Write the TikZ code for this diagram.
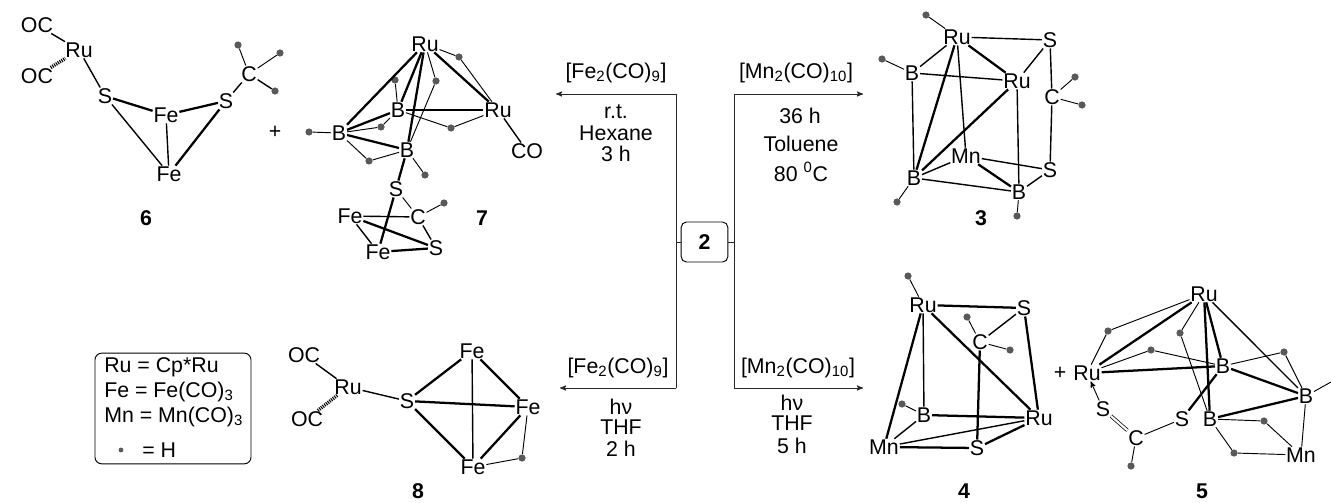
\documentclass[tikz,border=0pt]{standalone}
\usepackage{fontspec}
\setmainfont{Liberation Sans}
\usepackage{tikz}
\usetikzlibrary{arrows}
\newcommand{\atomfont}{\fontsize{16}{19}\selectfont}
\tikzset{
  atom/.style={inner sep=.5pt, font=\atomfont},
  cond/.style={inner sep=0pt, font=\atomfont},
  cmpd/.style={inner sep=0pt, font=\atomfont\bfseries},
  hyd/.style={circle, fill=black!65, inner sep=0pt, minimum size=5.4pt},
  thinb/.style={line width=.7pt},
  medb/.style={line width=1.05pt},
  boldb/.style={line width=1.7pt},
  hashb/.style={line width=2.6pt, dash pattern=on .8pt off .8pt},
  rxn/.style={line width=.7pt, black!85},
}
\begin{document}
\begin{tikzpicture}[x=.75pt, y=-.75pt]
  \useasboundingbox (0,0) rectangle (1331,503);

  % compound 6
  \node[atom] (oca) at (37,25) {OC};
  \node[atom] (ocb) at (37,76) {OC};
  \node[atom] (rua) at (79,50) {Ru};
  \node[atom] (sa) at (105,96) {S};
  \node[atom] (fea) at (166,115) {Fe};
  \node[atom] (feb) at (169,174) {Fe};
  \node[atom] (sb) at (226,101) {S};
  \node[atom] (ca) at (249,74) {C};
  \node[hyd] (ha) at (238,45) {};
  \node[hyd] (hb) at (280,53) {};
  \node[hyd] (hc) at (275,91) {};
  \node[atom] (plusa) at (275,132) {+};
  \node[cmpd] (six) at (146,218) {6};
  \path[medb] (oca) edge (rua) (rua) edge (sa) (sa) edge (feb) (sb) edge (ca)
    (fea) edge (feb) (ca) edge (hc);
  \path[thinb] (ca) edge (ha) (ca) edge (hb);
  \path[boldb] (sa) edge (fea) (sb) edge (fea) (sb) edge (feb);
  \path[hashb] (ocb) edge (rua);

  % compound 7
  \node[atom] (rub) at (425,44) {Ru};
  \node[atom] (ruc) at (498,110) {Ru};
  \node[atom] (coa) at (527,151) {CO};
  \node[atom] (ba) at (398,110) {B};
  \node[atom] (bb) at (339,133) {B};
  \node[atom] (bc) at (407,150) {B};
  \node[atom] (sc) at (396,189) {S};
  \node[atom] (cb) at (418,217) {C};
  \node[atom] (sd) at (436,248) {S};
  \node[atom] (fec) at (350,216) {Fe};
  \node[atom] (fed) at (378,252) {Fe};
  \node[hyd] (hd) at (459,57) {};
  \node[hyd] (he) at (436,81) {};
  \node[hyd] (hf) at (395,80) {};
  \node[hyd] (hg) at (309,132) {};
  \node[hyd] (hh) at (381,127) {};
  \node[hyd] (hi) at (451,128) {};
  \node[hyd] (hj) at (369,161) {};
  \node[hyd] (hk) at (425,175) {};
  \node[hyd] (hl) at (444,203) {};
  \node[cmpd] (seven) at (482,218) {7};
  \path[thinb] (rub) edge (hd) (hd) edge (ruc) (rub) edge (he) (he) edge (bc)
    (hf) edge (ba) (bb) edge (hg) (bb) edge (hh) (hh) edge (ba)
    (ba) edge (hi) (hi) edge (ruc) (bb) edge (hj) (hj) edge (bc)
    (bc) edge (hk) (cb) edge (hl) (sc) edge (cb);
  \path[medb] (ruc) edge (coa) (cb) edge (sd) (fec) edge (cb) (fec) edge (fed);
  \path[boldb] (rub) edge (bb) (rub) edge (ba) (rub) edge (bc) (rub) edge (ruc)
    (ba) edge (bb) (ba) edge (ruc) (bb) edge (bc) (bc) edge (sc)
    (sc) edge (fed) (fec) edge (sd) (fed) edge (sd);

  % scheme lines
  \node[draw, rounded corners=4pt, line width=.7pt, cmpd, minimum width=35pt, minimum height=30pt] (two) at (704.5,242) {2};
  \coordinate (jl) at (676,242);
  \coordinate (jr) at (734,242);
  \coordinate (tl) at (676,94);
  \coordinate (bl) at (676,388);
  \coordinate (tr) at (734,94);
  \coordinate (br) at (734,388);
  \coordinate (atl) at (556,94);
  \coordinate (abl) at (560,388);
  \coordinate (atr) at (863,94);
  \coordinate (abr) at (863,388);
  \draw[rxn] (two) -- (jl) (two) -- (jr) (tl) -- (bl) (tr) -- (br);
  \draw[rxn, -stealth'] (tl) -- (atl);
  \draw[rxn, -stealth'] (bl) -- (abl);
  \draw[rxn, -stealth'] (tr) -- (atr);
  \draw[rxn, -stealth'] (br) -- (abr);

  \node[cond] (fetop) at (616,73) {[Fe\textsubscript{2}(CO)\textsubscript{9}]};
  \node[cond] (rt) at (616,112) {r.t.};
  \node[cond] (hex) at (616,133) {Hexane};
  \node[cond] (tha) at (616,154) {3 h};
  \node[cond] (mntop) at (796,73) {[Mn\textsubscript{2}(CO)\textsubscript{10}]};
  \node[cond] (thb) at (800,116) {36 h};
  \node[cond] (tol) at (801,144) {Toluene};
  \node[cond] (temp) at (801,172) {80 \textsuperscript{0}C};
  \node[cond] (febot) at (618,368) {[Fe\textsubscript{2}(CO)\textsubscript{9}]};
  \node[cond] (hva) at (621,407) {hν};
  \node[cond] (thfa) at (621,427) {THF};
  \node[cond] (thc) at (621,449) {2 h};
  \node[cond] (mnbot) at (798,368) {[Mn\textsubscript{2}(CO)\textsubscript{10}]};
  \node[cond] (hvb) at (792,403) {hν};
  \node[cond] (thfb) at (792,423) {THF};
  \node[cond] (thd) at (792,446) {5 h};

  % compound 3
  \node[atom] (rud) at (957,37) {Ru};
  \node[atom] (rue) at (1017,81) {Ru};
  \node[atom] (bd) at (912,73) {B};
  \node[atom] (be) at (914,178) {B};
  \node[atom] (bf) at (1019,192) {B};
  \node[atom] (mna) at (966,156) {Mn};
  \node[atom] (se) at (1050,40) {S};
  \node[atom] (cc) at (1052,97) {C};
  \node[atom] (sf) at (1050,170) {S};
  \node[hyd] (hm) at (926,15) {};
  \node[hyd] (hn) at (882,59) {};
  \node[hyd] (ho) at (897,202) {};
  \node[hyd] (hp) at (1017,216) {};
  \node[hyd] (hq) at (1075,77) {};
  \node[hyd] (hr) at (1082,105) {};
  \node[cmpd] (three) at (981,218) {3};
  \path[thinb] (rud) edge (hm) (bd) edge (hn) (be) edge (ho) (bf) edge (hp)
    (cc) edge (hq) (cc) edge (hr);
  \path[medb] (rud) edge (bd) (rud) edge (se) (rud) edge (mna) (rue) edge (se)
    (rue) edge (bd) (rue) edge (bf) (bd) edge (be) (be) edge (mna) (be) edge (bf)
    (mna) edge (sf) (bf) edge (sf) (se) edge (cc) (cc) edge (sf);
  \path[boldb] (rud) edge (rue) (rud) edge (be) (rue) edge (be) (mna) edge (bf);

  % compound 4
  \node[atom] (ruf) at (923,305) {Ru};
  \node[atom] (rug) at (1039,418) {Ru};
  \node[atom] (sg) at (1024,308) {S};
  \node[atom] (sh) at (977,448) {S};
  \node[atom] (cd) at (980,342) {C};
  \node[atom] (bg) at (924,415) {B};
  \node[atom] (mnb) at (884,447) {Mn};
  \node[hyd] (hs) at (908,276) {};
  \node[hyd] (ht) at (967,317) {};
  \node[hyd] (hu) at (1010,350) {};
  \node[hyd] (hv) at (902,404) {};
  \node[cmpd] (four) at (964,491) {4};
  \path[thinb] (ruf) edge (hs) (cd) edge (ht) (cd) edge (hu) (bg) edge (hv);
  \path[medb] (ruf) edge (bg) (sg) edge (cd) (mnb) edge (rug) (bg) edge (mnb);
  \path[boldb] (ruf) edge (sg) (ruf) edge (rug) (ruf) edge (mnb) (sg) edge (rug)
    (cd) edge (sh) (bg) edge (rug) (mnb) edge (sh) (sh) edge (rug);

  % compound 5
  \node[atom] (plusb) at (1060,373) {+};
  \node[atom] (ruh) at (1204,294) {Ru};
  \node[atom] (rui) at (1087,373) {Ru};
  \node[atom] (bh) at (1223,366) {B};
  \node[atom] (bi) at (1306,396) {B};
  \node[atom] (bj) at (1210,419) {B};
  \node[atom] (mnc) at (1301,455) {Mn};
  \node[atom] (si) at (1182,419) {S};
  \node[atom] (sj) at (1103,409) {S};
  \node[atom] (ce) at (1136,438) {C};
  \node[hyd] (hw) at (1108,331) {};
  \node[hyd] (hx) at (1151,350) {};
  \node[hyd] (hy) at (1180,333) {};
  \node[hyd] (hz) at (1284,352) {};
  \node[hyd] (haa) at (1264,421) {};
  \node[hyd] (hab) at (1234,453) {};
  \node[hyd] (hac) at (1131,466) {};
  \node[cmpd] (five) at (1202,491) {5};
  \coordinate (free) at (1331,382);
  \path[thinb] (ruh) edge (hw) (hw) edge (rui) (rui) edge (hx) (hx) edge (bh)
    (ruh) edge (hy) (hy) edge (bj) (bh) edge (hz) (hz) edge (bi)
    (bj) edge (haa) (haa) edge (mnc) (bj) edge (hab) (hab) edge (mnc)
    (bi) edge (mnc) (si) edge (ce) (ce) edge (hac) (bi) edge (free);
  \path[medb] (ruh) edge (bi);
  \path[boldb] (ruh) edge (rui) (rui) edge (bh) (ruh) edge (bh) (ruh) edge (bj)
    (bh) edge (bi) (bj) edge (bi) (si) edge (bh);
  \draw[double, double distance=1.6pt, line width=.55pt] (sj) -- (ce);
  \draw[thinb, -stealth'] (sj) -- (rui);

  % compound 8
  \node[atom] (occ) at (304,355) {OC};
  \node[atom] (ocd) at (307,419) {OC};
  \node[atom] (ruj) at (348,387) {Ru};
  \node[atom] (sk) at (407,401) {S};
  \node[atom] (fee) at (472,351) {Fe};
  \node[atom] (fef) at (528,407) {Fe};
  \node[atom] (feg) at (473,467) {Fe};
  \node[hyd] (had) at (522,458) {};
  \node[cmpd] (eight) at (418,491) {8};
  \path[medb] (occ) edge (ruj) (ruj) edge (sk) (fee) edge (feg);
  \path[thinb] (fef) edge (had) (had) edge (feg);
  \path[boldb] (sk) edge (fee) (sk) edge (fef) (sk) edge (feg) (fee) edge (fef)
    (fef) edge (feg);
  \path[hashb] (ocd) edge (ruj);

  % legend
  \node[draw, rounded corners=5pt, line width=.7pt, inner sep=0pt, minimum width=117pt, minimum height=83pt] (legend) at (173,408.5) {};
  \node[cond, anchor=west] (lru) at (104,367) {Ru = Cp*Ru};
  \node[cond, anchor=west] (lfe) at (104,392) {Fe = Fe(CO)\textsubscript{3}};
  \node[cond, anchor=west] (lmn) at (104,417) {Mn = Mn(CO)\textsubscript{3}};
  \node[hyd, minimum size=3.6pt] (lh) at (121,450) {};
  \node[cond, anchor=west] (leq) at (142,450) {= H};
\end{tikzpicture}
\end{document}
